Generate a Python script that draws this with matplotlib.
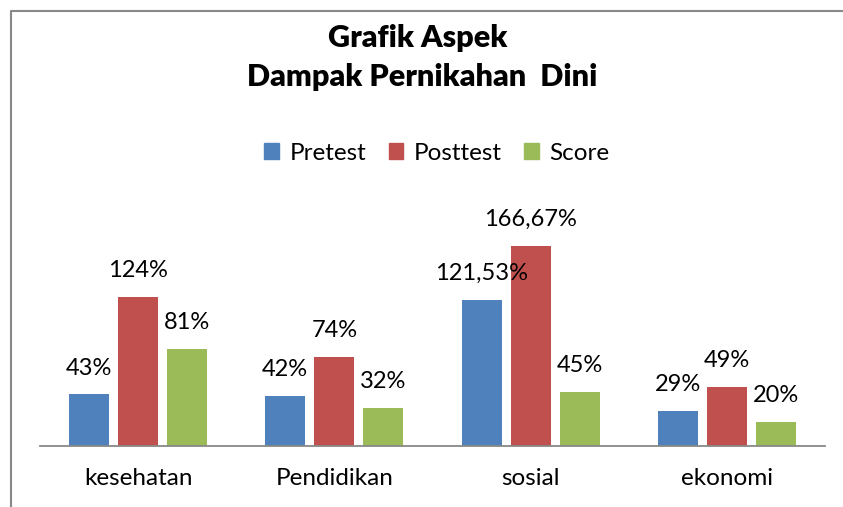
import matplotlib.pyplot as plt
from matplotlib.lines import Line2D
from matplotlib.patches import Patch
import numpy as np

plt.rcParams['font.family'] = ['Lato', 'DejaVu Sans']

categories = ['kesehatan', 'Pendidikan', 'sosial', 'ekonomi']
pretest = [43, 42, 121.53, 29]
posttest = [124, 74, 166.67, 49]
score = [81, 32, 45, 20]
pretest_labels = ['43%', '42%', '121,53%', '29%']
posttest_labels = ['124%', '74%', '166,67%', '49%']
score_labels = ['81%', '32%', '45%', '20%']

colors = ['#4F81BD', '#C0504D', '#9BBB59']
series = [('Pretest', pretest, pretest_labels),
          ('Posttest', posttest, posttest_labels),
          ('Score', score, score_labels)]

W, H = 843, 507
fig = plt.figure(figsize=(W / 100, H / 100), dpi=100)
ax = fig.add_axes([40 / W, (H - 446) / H, 785 / W, 240 / H])

x = np.arange(len(categories))
width = 0.204
offsets = [-0.25, 0, 0.25]
for (name, vals, labs), off, c in zip(series, offsets, colors):
    bars = ax.bar(x + off, vals, width, color=c, label=name)
    for b, lab in zip(bars, labs):
        ax.annotate(lab, (b.get_x() + b.get_width() / 2, b.get_height()),
                    xytext=(0, 19), textcoords='offset points',
                    ha='center', va='center', fontsize=17)

ax.set_xlim(-0.5, 3.5)
ax.set_ylim(0, 200)
ax.set_xticks(x)
ax.set_xticklabels(categories, fontsize=17.5)
ax.tick_params(axis='x', length=0, pad=16)
ax.set_yticks([])
for s in ['top', 'right', 'left']:
    ax.spines[s].set_visible(False)
ax.spines['bottom'].set_color('#888888')
ax.spines['bottom'].set_linewidth(1.3)

fig.text(418 / W, 1 - 38 / H, 'Grafik Aspek', ha='center', va='center',
         fontsize=22, fontweight='heavy')
fig.text(422 / W, 1 - 77 / H, 'Dampak Pernikahan  Dini', ha='center', va='center',
         fontsize=22, fontweight='heavy')

handles = [Patch(color=c, label=n) for (n, _, _), c in zip(series, colors)]
fig.legend(handles=handles, loc='center', bbox_to_anchor=(437 / W, 1 - 153 / H),
           ncol=3, frameon=False, fontsize=17.5, handlelength=0.6, handleheight=0.6,
           handletextpad=0.45, columnspacing=0.9)

# chart border (left and top edges only visible)
fig.add_artist(Line2D([11 / W, 11 / W, 1], [0, 1 - 11 / H, 1 - 11 / H],
                      color='#888888', lw=1.5, transform=fig.transFigure))

fig.savefig('out.png', dpi=100)
